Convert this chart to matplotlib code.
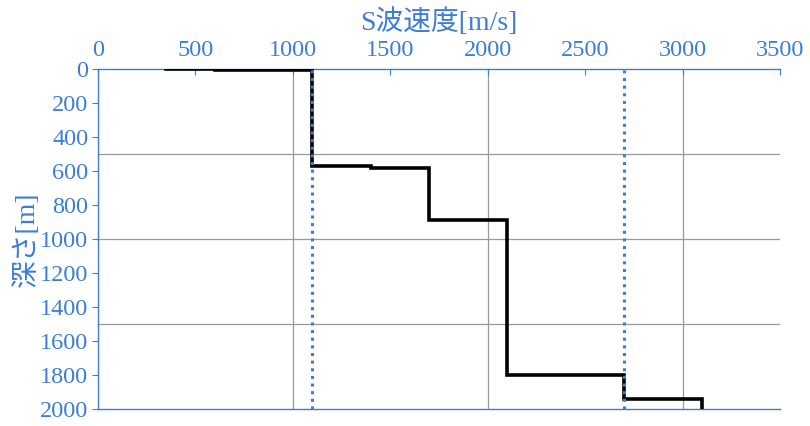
import matplotlib
matplotlib.use("Agg")
import matplotlib.pyplot as plt

# Data: step profile of S-wave velocity vs depth
velocity = [350, 600, 600, 1100, 1100, 1400, 1400, 1700, 1700, 2100, 2100, 2700, 2700, 3100, 3100]
depth = [0, 0, 5, 5, 570, 570, 580, 580, 890, 890, 1800, 1800, 1940, 1940, 2000]
ref_velocities = [1100, 2700]

x_ticks = [0, 500, 1000, 1500, 2000, 2500, 3000, 3500]
y_ticks = [0, 200, 400, 600, 800, 1000, 1200, 1400, 1600, 1800, 2000]
x_label = "S波速度[m/s]"
y_label = "深さ[m]"

BLUE = "#3b7dd8"
FONT = ["Liberation Serif", "Noto Sans CJK JP"]
plt.rcParams["font.family"] = FONT

fig = plt.figure(figsize=(8.1, 4.26), dpi=100)
ax = fig.add_axes([98 / 810, 1 - 409 / 426, (780 - 98) / 810, (409 - 69) / 426])

ax.set_xlim(0, 3500)
ax.set_ylim(2000, 0)

# gridlines
for gx in [1000, 2000, 3000]:
    ax.axvline(gx, color="#999999", lw=0.9, zorder=1)
for gy in [500, 1000, 1500]:
    ax.axhline(gy, color="#999999", lw=0.9, zorder=1)

ax.plot(velocity, depth, color="black", lw=2.6, solid_joinstyle="miter", zorder=3)
for rv in ref_velocities:
    ax.axvline(rv, color=BLUE, lw=2.2, ls=(0, (1.0, 1.5)), zorder=4)

ax.xaxis.set_ticks_position("top")
ax.xaxis.set_label_position("top")
ax.set_xticks(x_ticks)
ax.set_yticks(y_ticks)
ax.tick_params(axis="x", colors=BLUE, labelsize=17.5, direction="in", length=4, pad=6)
ax.tick_params(axis="y", colors=BLUE, labelsize=17.5, direction="out", length=4, pad=3)
for lbl in ax.get_xticklabels() + ax.get_yticklabels():
    lbl.set_color(BLUE)

ax.set_xlabel(x_label, color=BLUE, fontsize=20, labelpad=7)
ax.set_ylabel(y_label, color=BLUE, fontsize=20, labelpad=0)

for side in ["top", "left", "bottom"]:
    ax.spines[side].set_color(BLUE)
    ax.spines[side].set_linewidth(1.0)
ax.spines["right"].set_visible(False)

fig.savefig("out.png", dpi=100)
